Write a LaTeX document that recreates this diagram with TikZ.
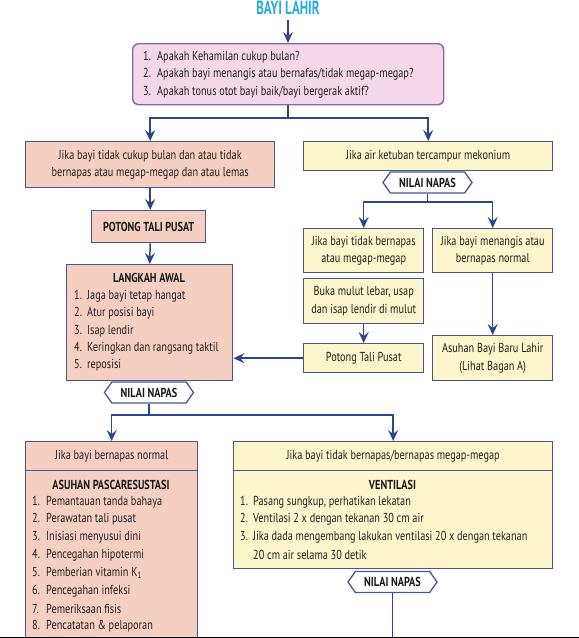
\documentclass[tikz,border=0pt]{standalone}
\usepackage{fontspec}
\setmainfont{PT Sans}[FakeStretch=0.79]
\newfontfamily\ttlfont{PT Sans}[FakeStretch=0.68]
\usetikzlibrary{arrows.meta,shapes.symbols}
\definecolor{arrblue}{HTML}{2B4590}
\definecolor{bord}{HTML}{4A558F}
\definecolor{pinkf}{HTML}{F4D8E8}
\definecolor{pinkb}{HTML}{7D6AA6}
\definecolor{salm}{HTML}{F5CFC1}
\definecolor{yell}{HTML}{FDF6CD}
\definecolor{cyant}{HTML}{29A9E1}
\definecolor{txtc}{HTML}{221F1D}
\begin{document}
\begin{tikzpicture}[x=1pt,y=-1pt,
  box/.style={draw=bord, line width=1.4pt, inner sep=0pt, anchor=north west,
    align=center, text=txtc, font=\fontsize{13}{17.5}\selectfont},
  salbox/.style={box, fill=salm},
  yelbox/.style={box, fill=yell},
  txt/.style={font=\fontsize{13}{17.5}\selectfont, text=txtc, inner sep=0pt},
  item/.style={txt, anchor=west},
  btxt/.style={txt, font=\fontsize{13}{17.5}\selectfont\bfseries, text=black!90},
  arr/.style={draw=arrblue, line width=1.5pt, -{Stealth[length=11pt,width=10pt,inset=4pt]}},
  ln/.style={draw=arrblue, line width=1.5pt},
  hexa/.style={signal, signal to=east and west, signal pointer angle=110, draw=bord,
    line width=1.3pt, fill=white, inner sep=0pt, minimum width=89pt, minimum height=21pt,
    font=\fontsize{13}{15}\selectfont\bfseries, text=black!90}
]
\useasboundingbox (0,0) rectangle (579,638);

% title
\node[font=\ttlfont\fontsize{19}{22}\selectfont\bfseries, text=cyant, inner sep=0pt, anchor=base] (title) at (288,14.5) {BAYI LAHIR};

% question box
\node[box, draw=pinkb, fill=pinkf, rounded corners=6pt, minimum width=311pt, minimum height=61pt] (q) at (132,43) {};
\node[item] (q1) at (143,57) {\makebox[14pt][l]{1.}Apakah Kehamilan cukup bulan?};
\node[item] (q2) at (143,74.5) {\makebox[14pt][l]{2.}Apakah bayi menangis atau bernafas/tidak megap-megap?};
\node[item] (q3) at (143,92) {\makebox[14pt][l]{3.}Apakah tonus otot bayi baik/bayi bergerak aktif?};

% left branch
\node[salbox, minimum width=249pt, minimum height=46pt] (lb) at (25,141)
  {Jika bayi tidak cukup bulan dan atau tidak\\bernapas atau megap-megap dan atau lemas};
\node[salbox, minimum width=114pt, minimum height=32pt, font=\fontsize{13}{15}\selectfont\bfseries, text=black!90] (pt) at (91,210) {POTONG TALI PUSAT};
\node[salbox, minimum width=166pt, minimum height=116pt] (la) at (66,264) {};
\node[btxt] (lat) at (149,278) {LANGKAH AWAL};
\node[item] (la1) at (74,296) {\makebox[13pt][l]{1.}Jaga bayi tetap hangat};
\node[item] (la2) at (74,313.5) {\makebox[13pt][l]{2.}Atur posisi bayi};
\node[item] (la3) at (74,331) {\makebox[13pt][l]{3.}Isap lendir};
\node[item] (la4) at (74,348) {\makebox[13pt][l]{4.}Keringkan dan rangsang taktil};
\node[item] (la5) at (74,365) {\makebox[13pt][l]{5.}reposisi};

% right branch
\node[yelbox, minimum width=249pt, minimum height=29pt] (rb) at (303,141) {Jika air ketuban tercampur mekonium};
\node[hexa] (nn1) at (427.5,182.5) {NILAI NAPAS};
\node[yelbox, minimum width=120pt, minimum height=44pt] (sl) at (303,228) {Jika bayi tidak bernapas\\atau megap-megap};
\node[yelbox, minimum width=120pt, minimum height=44pt] (sr) at (432,228) {Jika bayi menangis atau\\bernapas normal};
\node[yelbox, minimum width=120pt, minimum height=45pt] (bk) at (303,278) {Buka mulut lebar, usap\\dan isap lendir di mulut};
\node[yelbox, minimum width=120pt, minimum height=29pt] (ptp) at (303,343) {Potong Tali Pusat};
\node[yelbox, minimum width=120pt, minimum height=45pt] (as) at (432,335) {Asuhan Bayi Baru Lahir\\(Lihat Bagan A)};

% second assessment
\node[hexa] (nn2) at (149,392.5) {NILAI NAPAS};

% bottom left
\node[salbox, minimum width=172pt, minimum height=168pt] (hlb) at (25,470) {};
\node[salbox, minimum width=172pt, minimum height=29pt] (hl) at (25,441) {Jika bayi bernapas normal};
\node[btxt] (hlt) at (111,485) {ASUHAN PASCARESUSTASI};
\node[item] (a1) at (32,502) {\makebox[14pt][l]{1.}Pemantauan tanda bahaya};
\node[item] (a2) at (32,519.5) {\makebox[14pt][l]{2.}Perawatan tali pusat};
\node[item] (a3) at (32,537.5) {\makebox[14pt][l]{3.}Inisiasi menyusui dini};
\node[item] (a4) at (32,555) {\makebox[14pt][l]{4.}Pencegahan hipotermi};
\node[item] (a5) at (32,573) {\makebox[14pt][l]{5.}Pemberian vitamin K\textsubscript{1}};
\node[item] (a6) at (32,591) {\makebox[14pt][l]{6.}Pencegahan infeksi};
\node[item] (a7) at (32,608.5) {\makebox[14pt][l]{7.}Pemeriksaan fisis};
\node[item] (a8) at (32,626.5) {\makebox[14pt][l]{8.}Pencatatan \& pelaporan};

% bottom right
\node[yelbox, minimum width=319pt, minimum height=98pt] (hrb) at (233,470) {};
\node[yelbox, minimum width=319pt, minimum height=29pt] (hr) at (233,441) {Jika bayi tidak bernapas/bernapas megap-megap};
\node[btxt] (hrt) at (392.5,485) {VENTILASI};
\node[item] (v1) at (240,502) {\makebox[13pt][l]{1.}Pasang sungkup, perhatikan lekatan};
\node[item] (v2) at (240,519.5) {\makebox[13pt][l]{2.}Ventilasi 2 x dengan tekanan 30 cm air};
\node[item] (v3) at (240,537.5) {\makebox[13pt][l]{3.}Jika dada mengembang lakukan ventilasi 20 x dengan tekanan};
\node[item] (v3b) at (253,555) {20 cm air selama 30 detik};
\node[hexa] (nn3) at (392.5,582) {NILAI NAPAS};
\coordinate (bend) at (392.5,638);

% connectors
\coordinate (j1) at (288,118);
\coordinate (j2) at (427.5,202);
\coordinate (j3) at (149,415);
\draw[arr, shorten <=5pt] (title.south) -- (title.south |- q.north);
\draw[ln] (q.south -| j1) -- (j1);
\draw[arr] (j1) -| (lb.north);
\draw[arr] (j1) -| (rb.north);
\draw[arr] (lb.south) -- (lb.south |- pt.north);
\draw[arr] (lb.south |- pt.south) -- (la.north);
\draw[ln] (nn1.south) -- (j2);
\draw[arr] (j2) -| (sl.north);
\draw[arr] (j2) -| (sr.north);
\draw[arr] (sr.south) -- (as.north);
\draw[arr] (bk.south) -- (ptp.north);
\draw[arr] (ptp.west) -- (ptp.west -| la.east);
\draw[ln] (nn2.south) -- (j3);
\draw[arr] (j3) -| (hl.north);
\draw[arr] (j3) -| (hr.north);
\draw[ln] (nn3.south) -- (bend);

% bottom frame line
\draw[black, line width=1.2pt] (0,637.4) -- (579,637.4);
\end{tikzpicture}
\end{document}
